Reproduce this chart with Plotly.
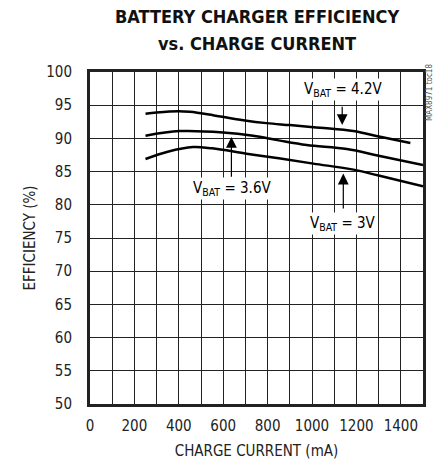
import plotly.graph_objects as go

# datos
i_42 = [250, 300, 400, 450, 554, 690, 795, 900, 1036, 1186, 1307, 1443]
ef_42 = [93.7, 93.9, 94.1, 94.0, 93.5, 92.75, 92.3, 92.0, 91.6, 91.1, 90.25, 89.3]

i_36 = [250, 404, 600, 735, 850, 976, 1157, 1300, 1500]
ef_36 = [90.4, 91.1, 90.9, 90.4, 89.7, 89.0, 88.4, 87.4, 86.0]

i_30 = [250, 350, 464, 550, 705, 850, 1006, 1187, 1300, 1500]
ef_30 = [86.9, 88.0, 88.7, 88.5, 87.7, 87.0, 86.2, 85.3, 84.4, 82.8]

x_ticks = [0, 200, 400, 600, 800, 1000, 1200, 1400]
y_ticks = [50, 55, 60, 65, 70, 75, 80, 85, 90, 95, 100]

FONT = "DejaVu Sans Condensed, Liberation Sans Narrow, sans-serif"

fig = go.Figure()
for xs, ys in [(i_42, ef_42), (i_36, ef_36), (i_30, ef_30)]:
    fig.add_trace(go.Scatter(x=xs, y=ys, mode="lines", line_shape="spline",
                             line=dict(color="black", width=2.5), showlegend=False))

# flechas y etiquetas
flechas = [
    (1136, 95.0, 92.0),
    (637, 84.0, 90.2),
    (1141, 79.2, 84.7),
]
for x, y0, y1 in flechas:
    fig.add_annotation(x=x, y=y1, ax=x, ay=y0, axref="x", ayref="y", text="",
                       showarrow=True, arrowhead=2, arrowsize=1.8, arrowwidth=1.2,
                       arrowcolor="black")

etiquetas = [
    (1138, 97.3, "V<sub>BAT</sub> = 4.2V"),
    (638, 82.5, "V<sub>BAT</sub> = 3.6V"),
    (1141, 77.2, "V<sub>BAT</sub> = 3V"),
]
for x, y, t in etiquetas:
    fig.add_annotation(x=x, y=y, text=t, showarrow=False, bgcolor="white",
                       font=dict(family=FONT, size=15, color="black"), borderpad=1)

# titulo en dos anotaciones
fig.add_annotation(x=0.5, y=1.166, xref="paper", yref="paper", showarrow=False,
                   yanchor="middle", text="<b>BATTERY CHARGER EFFICIENCY</b>",
                   font=dict(family=FONT, size=18, color="#111"))
fig.add_annotation(x=0.5, y=1.087, xref="paper", yref="paper", showarrow=False,
                   yanchor="middle", text="<b>vs. CHARGE CURRENT</b>",
                   font=dict(family=FONT, size=18, color="#111"))

fig.add_annotation(x=1.0, y=1.0, xref="paper", yref="paper", text="MAX8971 toc18",
                   textangle=-90, showarrow=False, xanchor="left", yanchor="top",
                   xshift=0, yshift=10, font=dict(family=FONT, size=8, color="#555"))

fig.update_xaxes(range=[0, 1500], tickvals=x_ticks, showgrid=True, gridcolor="#222",
                 gridwidth=1, minor=dict(dtick=100, showgrid=True, gridcolor="#222", gridwidth=1),
                 showline=True, linecolor="#222", linewidth=3, mirror=True, ticks="",
                 ticklabelstandoff=6,
                 title_text="CHARGE CURRENT (mA)", title_standoff=12,
                 tickfont=dict(family=FONT, size=15, color="#222"),
                 title_font=dict(family=FONT, size=15, color="#222"), zeroline=False)
fig.update_yaxes(range=[50, 100], tickvals=y_ticks, showgrid=True, gridcolor="#222",
                 gridwidth=1, showline=True, linecolor="#222", linewidth=3, mirror=True,
                 ticks="", ticklabelstandoff=12,
                 title_text="EFFICIENCY (%)", title_standoff=7,
                 tickfont=dict(family=FONT, size=15, color="#222"),
                 title_font=dict(family=FONT, size=15, color="#222"), zeroline=False)

fig.update_layout(width=434, height=465, template=None, plot_bgcolor="white",
                  paper_bgcolor="white",
                  margin=dict(l=90, r=11, t=72, b=61))

fig.write_html("out.html", config={"displayModeBar": False},
               post_script="document.body.style.margin='0';")
